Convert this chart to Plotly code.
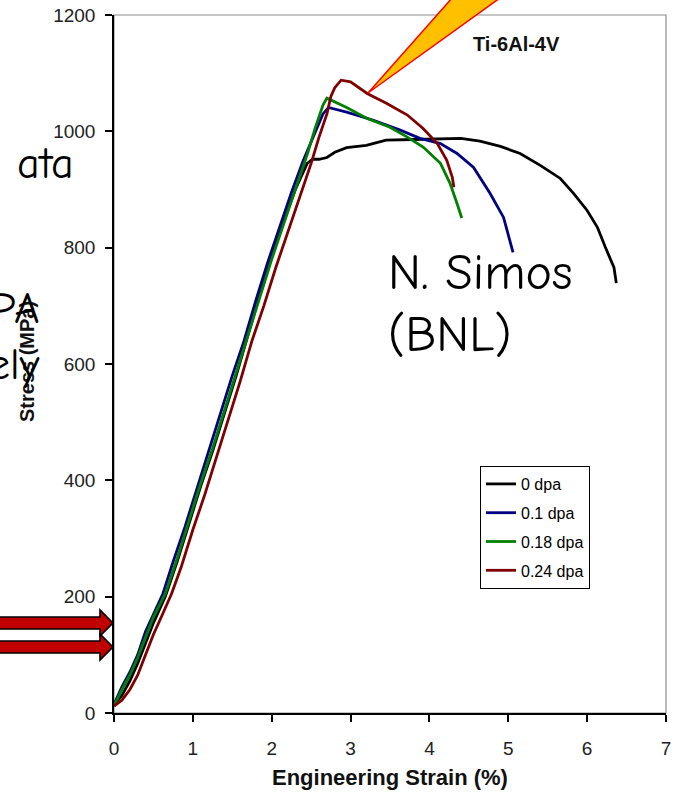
import plotly.graph_objects as go

# Engineering stress-strain curves for Ti-6Al-4V at several irradiation doses
dose_labels = ["0 dpa", "0.1 dpa", "0.18 dpa", "0.24 dpa"]
line_colors = ["#000000", "#000080", "#008000", "#800000"]

strain_0 = [0, 0.1, 0.2, 0.3, 0.4, 0.5, 0.65, 0.8, 0.95, 1.1, 1.25, 1.4, 1.55, 1.7, 1.85,
            2.0, 2.15, 2.3, 2.45, 2.52, 2.6, 2.7, 2.8, 2.95, 3.2, 3.45, 3.8, 4.1, 4.4, 4.64,
            4.9, 5.15, 5.4, 5.66, 5.83, 6.0, 6.13, 6.23, 6.34, 6.37]
stress_0 = [15, 30, 55, 85, 120, 155, 200, 260, 325, 390, 450, 515, 580, 650, 720,
            790, 845, 900, 945, 952, 952, 955, 964, 972, 976, 985, 986, 987, 988, 983,
            974, 962, 942, 919, 893, 864, 835, 801, 766, 739]

strain_01 = [0, 0.05, 0.1, 0.2, 0.3, 0.4, 0.5, 0.62, 0.75, 0.9, 1.05, 1.2, 1.35, 1.5, 1.65,
             1.8, 1.95, 2.1, 2.25, 2.4, 2.55, 2.65, 2.72, 2.95, 3.29, 3.63, 3.88, 4.14, 4.35,
             4.56, 4.77, 4.94, 5.06]
stress_01 = [15, 30, 45, 70, 100, 140, 170, 205, 260, 320, 385, 450, 515, 580, 640,
             710, 775, 835, 895, 950, 1000, 1030, 1041, 1033, 1019, 1002, 988, 979, 962,
             938, 893, 852, 792]

strain_018 = [0, 0.1, 0.2, 0.3, 0.4, 0.5, 0.65, 0.8, 0.95, 1.1, 1.25, 1.4, 1.55, 1.7, 1.85,
              2.0, 2.15, 2.3, 2.45, 2.55, 2.65, 2.7, 2.95, 3.21, 3.5, 3.72, 3.92, 4.14, 4.26,
              4.35, 4.41]
stress_018 = [12, 40, 65, 95, 130, 165, 205, 265, 330, 395, 455, 520, 585, 650, 715,
              780, 840, 900, 960, 1005, 1045, 1057, 1041, 1022, 1007, 990, 973, 945, 911,
              876, 851]

strain_024 = [0, 0.1, 0.2, 0.3, 0.4, 0.5, 0.6, 0.73, 0.85, 1.0, 1.15, 1.3, 1.45, 1.6, 1.75,
              1.9, 2.05, 2.2, 2.35, 2.5, 2.6, 2.7, 2.75, 2.8, 2.88, 3.0, 3.21, 3.46, 3.72,
              3.92, 4.1, 4.22, 4.29, 4.31]
stress_024 = [12, 22, 40, 65, 100, 135, 165, 205, 250, 315, 375, 440, 505, 570, 640,
              700, 765, 825, 885, 945, 990, 1030, 1060, 1075, 1088, 1085, 1065, 1048, 1028,
              1005, 979, 950, 921, 904]

strains = [strain_0, strain_01, strain_018, strain_024]
stresses = [stress_0, stress_01, stress_018, stress_024]

x_ticks = [0, 1, 2, 3, 4, 5, 6, 7]
y_ticks = [0, 200, 400, 600, 800, 1000, 1200]

# figure geometry (pixels)
FIG_W, FIG_H = 677, 794
M_L, M_R, M_T, M_B = 114, 11, 15, 81
PW = FIG_W - M_L - M_R
PH = FIG_H - M_T - M_B


def px(x):
    return (x - M_L) / PW


def py(y):
    return (FIG_H - M_B - y) / PH


fig = go.Figure()
for i in range(len(dose_labels)):
    fig.add_trace(go.Scatter(
        x=strains[i], y=stresses[i], mode="lines", name=dose_labels[i],
        legendgroup=dose_labels[i],
        line=dict(color=line_colors[i], width=2.8),
    ))

AX_FONT = "Liberation Sans Narrow, Arial Narrow, Liberation Sans, Arial, sans-serif"
BOLD_FONT = "Liberation Sans, Arial, sans-serif"
HAND_FONT = "Comic Sans MS, Comic Neue, DejaVu Sans, sans-serif"


def poly(points):
    return "M " + " L ".join(f"{px(a):.5f},{py(b):.5f}" for a, b in points) + " Z"


shapes = [
    # light frame on top/right of the plotting area
    dict(type="rect", xref="paper", yref="paper", x0=0, y0=0, x1=1, y1=1,
         line=dict(color="#8c8c8c", width=1.2), layer="below"),
    # callout wedge
    dict(type="path", xref="paper", yref="paper",
         path=poly([(368, 93), (468, -20), (525, -20)]),
         fillcolor="#FFC000", line=dict(color="#FF0000", width=1.5), layer="above"),
    # block arrows pointing at the stress axis
    dict(type="path", xref="paper", yref="paper",
         path=poly([(-5, 617), (100, 617), (100, 610), (113, 623), (100, 636), (100, 629), (-5, 629)]),
         fillcolor="#C00000", line=dict(color="#000000", width=1.6), layer="above"),
    dict(type="path", xref="paper", yref="paper",
         path=poly([(-5, 641), (100, 641), (100, 634), (113, 647), (100, 660), (100, 653), (-5, 653)]),
         fillcolor="#C00000", line=dict(color="#000000", width=1.6), layer="above"),
]

annotations = [
    dict(text="<b>Engineering Strain (%)</b>", x=px(390), y=py(777), xref="paper", yref="paper",
         xanchor="center", yanchor="middle", showarrow=False,
         font=dict(family=BOLD_FONT, size=22, color="#111111")),
    dict(text="<b>Stress (MPa)</b>", x=px(27), y=py(362), xref="paper", yref="paper",
         xanchor="center", yanchor="middle", showarrow=False, textangle=-90,
         font=dict(family=BOLD_FONT, size=20, color="#111111")),
    dict(text="<b>Ti-6Al-4V</b>", x=px(471), y=py(44), xref="paper", yref="paper",
         xanchor="left", yanchor="middle", showarrow=False,
         font=dict(family=BOLD_FONT, size=20, color="#111111")),
    dict(text="N. Simos", x=px(386), y=py(273), xref="paper", yref="paper",
         xanchor="left", yanchor="middle", showarrow=False,
         font=dict(family=HAND_FONT, size=50, color="#000000")),
    dict(text="(BNL)", x=px(386), y=py(335), xref="paper", yref="paper",
         xanchor="left", yanchor="middle", showarrow=False,
         font=dict(family=HAND_FONT, size=50, color="#000000")),
    dict(text="ata", x=px(76), y=py(163), xref="paper", yref="paper",
         xanchor="right", yanchor="middle", showarrow=False,
         font=dict(family=HAND_FONT, size=44, color="#000000")),
    dict(text="PA", x=px(41), y=py(308), xref="paper", yref="paper",
         xanchor="right", yanchor="middle", showarrow=False,
         font=dict(family=HAND_FONT, size=44, color="#000000")),
    dict(text="ely", x=px(42), y=py(364), xref="paper", yref="paper",
         xanchor="right", yanchor="middle", showarrow=False,
         font=dict(family=HAND_FONT, size=44, color="#000000")),
]

fig.update_layout(
    width=FIG_W, height=FIG_H,
    margin=dict(l=M_L, r=M_R, t=M_T, b=M_B, pad=0, autoexpand=False),
    paper_bgcolor="white", plot_bgcolor="white",
    font=dict(family=AX_FONT, color="#222222"),
    shapes=shapes, annotations=annotations,
    showlegend=True,
    legend=dict(x=px(480), y=py(466), xanchor="left", yanchor="top",
                bgcolor="white", bordercolor="#000000", borderwidth=1,
                font=dict(family=BOLD_FONT, size=16, color="#000000"),
                tracegroupgap=5, itemwidth=30),
)
fig.update_xaxes(range=[0, 7], tickvals=x_ticks, ticktext=[str(v) for v in x_ticks],
                 automargin=False,
                 showgrid=False, zeroline=False, showline=True, linecolor="#000000", linewidth=1.5,
                 ticks="outside", ticklen=7, tickwidth=1.5, tickcolor="#000000",
                 ticklabelstandoff=10, tickfont=dict(family=AX_FONT, size=19, color="#222222"))
fig.update_yaxes(range=[0, 1200], tickvals=y_ticks, ticktext=[str(v) for v in y_ticks],
                 automargin=False,
                 showgrid=False, zeroline=False, showline=True, linecolor="#000000", linewidth=1.5,
                 ticks="outside", ticklen=7, tickwidth=1.5, tickcolor="#000000",
                 ticklabelstandoff=6, tickfont=dict(family=AX_FONT, size=19, color="#222222"))

fig.write_html("out.html")
